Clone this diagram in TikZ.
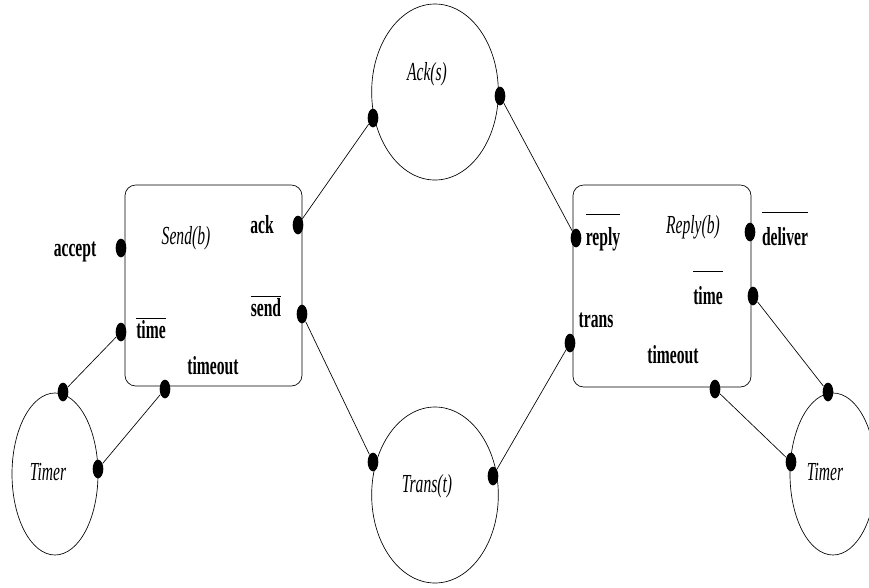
\documentclass[tikz,border=0pt]{standalone}
\usepackage{fontspec}
\setmainfont{Liberation Serif}[FakeStretch=0.6]
\usetikzlibrary{shapes.geometric}

\tikzset{
  proc/.style={draw,ellipse,inner sep=0pt},
  machine/.style={draw,rounded corners=8pt,inner sep=0pt},
  port/.style={ellipse,fill=black,inner sep=0pt,minimum width=8pt,minimum height=14pt},
  lbl/.style={anchor=base,inner sep=0pt,font=\fontsize{19.5}{20}\selectfont\bfseries},
  pname/.style={anchor=base,inner sep=0pt,font=\fontsize{19.5}{20}\selectfont\itshape},
}
% barred action name, optional strut lifts the bar
\newcommand{\ovl}[2][0pt]{$\overline{\rule{0pt}{#1}\mbox{#2}}$}

\begin{document}
\begin{tikzpicture}[x=0.75pt,y=-0.75pt,line width=0.5pt]
	\useasboundingbox (0,0) rectangle (869,587);
	%processes
	\node[proc,minimum width=95pt,minimum height=132pt] (ack) at (435,92) {};
	\node[proc,minimum width=95pt,minimum height=132pt] (trans) at (435,495) {};
	\node[proc,minimum width=64.5pt,minimum height=121.5pt] (ltimer) at (55,474) {};
	\node[proc,minimum width=64.5pt,minimum height=121.5pt] (rtimer) at (833,474) {};
	%boxes
	\node[machine,minimum width=132.75pt,minimum height=150.75pt] (send) at (213.5,285.5) {};
	\node[machine,minimum width=133.5pt,minimum height=151.5pt] (reply) at (662,286) {};
	%ports
	\foreach \n/\x/\y in {s-accept/121/248, s-ack/298/225, s-send/302/314, s-time/121/332,
		s-timeout/165/389, r-reply/576/238, r-deliver/750/232, r-time/753/296,
		r-trans/570/343, r-timeout/715/389, a-in/373/118, a-out/500/96,
		t-in/373/462, t-out/493/476, lt-a/63/392, lt-b/98/469, rt-a/828/392, rt-b/791/462}
	\node[port] (\n) at (\x,\y) {};
	%links
	\draw (s-ack) -- (a-in);
	\draw (a-out) -- (r-reply);
	\draw (s-send) -- (t-in);
	\draw (t-out) -- (r-trans);
	\draw (s-time) -- (lt-a);
	\draw (s-timeout) -- (lt-b);
	\draw (r-time) -- (rt-a);
	\draw (r-timeout) -- (rt-b);
	%labels
	\node[pname] (n-ack) at (427,80) {Ack(s)};
	\node[pname] (n-trans) at (427,492) {Trans(t)};
	\node[pname] (n-ltimer) at (48,480) {Timer};
	\node[pname] (n-rtimer) at (825,480) {Timer};
	\node[pname] (n-send) at (186,244) {Send(b)};
	\node[pname] (n-reply) at (693,233) {Reply(b)};
	\node[lbl] (l-accept) at (75,256) {accept};
	\node[lbl] (l-ack) at (262,233) {ack};
	\node[lbl] (l-send) at (266,316) {\ovl{send}};
	\node[lbl] (l-stime) at (151,338) {\ovl{time}};
	\node[lbl] (l-stimeout) at (213,374) {timeout};
	\node[lbl] (l-reply) at (603,245) {\ovl[22pt]{reply}};
	\node[lbl] (l-deliver) at (785,245) {\ovl[23pt]{deliver}};
	\node[lbl] (l-rtime) at (708,304) {\ovl[23pt]{time}};
	\node[lbl] (l-trans) at (596,327) {trans};
	\node[lbl] (l-rtimeout) at (673,363) {timeout};
\end{tikzpicture}
\end{document}
